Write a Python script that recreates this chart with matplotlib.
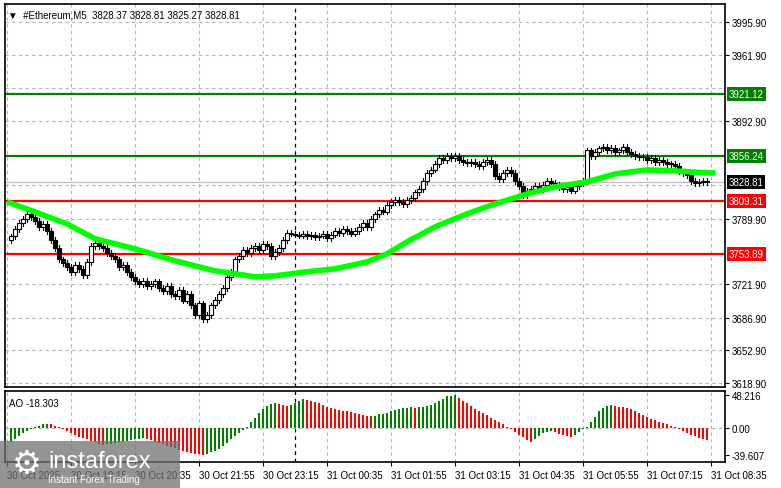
import numpy as np
import matplotlib
matplotlib.use("Agg")
import matplotlib.pyplot as plt
from matplotlib.patches import Rectangle

plt.rcParams["font.family"] = ["Liberation Sans", "DejaVu Sans"]

# closes of each M5 candle (opens taken from previous close)
closes = [3772, 3780, 3786, 3790, 3795, 3792, 3788, 3782, 3785, 3778, 3768,
          3760, 3748, 3744, 3740, 3735, 3742, 3738, 3732, 3745, 3762,
          3765, 3762, 3760, 3755, 3752, 3748, 3740, 3742, 3735, 3730,
          3725, 3722, 3726, 3720, 3722, 3725, 3718, 3715, 3720, 3712,
          3710, 3716, 3705, 3712, 3700, 3690, 3702, 3686, 3690, 3700,
          3706, 3712, 3718, 3730, 3735, 3748, 3752, 3758, 3755, 3760,
          3762, 3758, 3764, 3762, 3752, 3756, 3760, 3768, 3776, 3775,
          3774, 3773, 3775, 3772, 3774, 3771, 3773, 3775, 3770, 3774,
          3778, 3776, 3780, 3778, 3775, 3778, 3782, 3786, 3782, 3790,
          3795, 3800, 3798, 3805, 3808, 3810, 3808, 3806, 3810, 3812,
          3818, 3822, 3830, 3838, 3842, 3848, 3854, 3852, 3856, 3854,
          3856, 3852, 3850, 3849, 3850, 3848, 3846, 3850, 3852, 3848,
          3835, 3832, 3838, 3842, 3838, 3830, 3825, 3815, 3820, 3822,
          3825, 3822, 3826, 3830, 3828, 3826, 3824, 3822, 3824, 3820,
          3825, 3828, 3830, 3862, 3856, 3860, 3864, 3866, 3862, 3865,
          3860, 3862, 3866, 3860, 3858, 3856, 3855, 3855, 3852, 3854,
          3850, 3852, 3850, 3848, 3848, 3846, 3840, 3838, 3836, 3830,
          3828, 3829, 3830, 3828.81]
first_open = 3768

# moving average, sampled at candle indices
ma_idx = [-1, 6, 14, 21, 31, 41, 51, 61, 66, 74, 81, 89, 94, 99, 106, 114, 121,
          129, 136, 144, 151, 159, 166, 174, 176]
ma_val = [3808.2, 3797.7, 3785.2, 3769.6, 3759.1, 3746.6, 3736.1, 3729.9, 3730.9,
          3735.1, 3738.2, 3745.5, 3753.9, 3766.4, 3782.1, 3795.7, 3806.1, 3816.5,
          3823.9, 3829.1, 3837.4, 3841.6, 3840.6, 3838.5, 3838.5]

ao = [-20, -16, -12, -8, -5, -2, 1, 3, 5, 6,
      5, 3, 1, -2, -5, -8, -10, -13, -15, -17,
      -19, -21, -23, -25, -24, -23, -22, -21, -20, -19,
      -18, -17, -16, -15, -16, -18, -20, -22, -24, -26,
      -28, -30, -32, -34, -36, -37, -38, -39, -39.6, -38,
      -36, -34, -31, -27, -22, -17, -12, -7, -3, 1,
      8, 15, 22, 28, 32, 35, 36, 35, 33, 32,
      33, 36, 40, 42, 41, 40, 38, 36, 34, 31,
      29, 27, 26, 25, 24, 23, 22, 20, 19, 18,
      17, 18, 20, 21, 22, 24, 26, 28, 29, 29,
      30, 29, 30, 31, 32, 34, 37, 40, 43, 46,
      47, 48.2, 44, 40, 36, 32, 28, 25, 22, 19,
      15, 12, 8, 5, 2, -2, -6, -10, -14, -18,
      -20, -17, -12, -8, -6, -4, -6, -9, -11, -12,
      -13, -10, -6, -2, 2, 8, 16, 24, 29, 32,
      33, 32, 31, 30, 29, 27, 25, 22, 19, 16,
      13, 11, 9, 7, 5, 3, 1, -1, -4, -7,
      -10, -12, -15, -17, -18.3]

price_ticks = [3995.90, 3961.90, 3926.90, 3892.90, 3856.90, 3825.90,
               3789.90, 3753.90, 3721.90, 3686.90, 3652.90, 3618.90]
price_labels_shown = [3995.90, 3961.90, 3892.90, 3789.90, 3721.90, 3686.90, 3652.90, 3618.90]
time_pos = [-1, 15, 31, 47, 63, 79, 95, 111, 127, 143, 159, 175]
time_labels = ["30 Oct 2025", "30 Oct 19:15", "30 Oct 20:35", "30 Oct 21:55",
               "30 Oct 23:15", "31 Oct 00:35", "31 Oct 01:55", "31 Oct 03:15",
               "31 Oct 04:35", "31 Oct 05:55", "31 Oct 07:15", "31 Oct 08:35"]
levels = [(3921.12, "#007f00"), (3856.24, "#007f00"), (3809.31, "#ff0000"), (3753.89, "#ff0000")]
last_price = 3828.81

W, H = 781, 489
fig = plt.figure(figsize=(W / 100, H / 100), dpi=100)
ax = fig.add_axes([5 / W, 1 - 388 / H, 720 / W, 383 / H])
ax2 = fig.add_axes([5 / W, 1 - 463 / H, 720 / W, 71 / H])

grid_kw = dict(color="#b4b4b4", linestyle=(0, (3, 3)), linewidth=0.8)
for a in (ax, ax2):
    for t in time_pos:
        a.axvline(t, zorder=0, **grid_kw)
    a.set_xlim(-1.5, 178.5)
    for s in a.spines.values():
        s.set_linewidth(1.2)
for p in price_ticks:
    ax.axhline(p, zorder=0, **grid_kw)

# candles
opens = [first_open] + closes[:-1]
for i, (o, c) in enumerate(zip(opens, closes)):
    hi, lo = max(o, c) + 3, min(o, c) - 3
    ax.plot([i, i], [lo, hi], color="black", lw=0.8, zorder=3)
    if c >= o:
        ax.add_patch(Rectangle((i - 0.4, o), 0.8, max(c - o, 0.6), facecolor="white",
                               edgecolor="black", lw=0.8, zorder=4))
    else:
        ax.add_patch(Rectangle((i - 0.4, c), 0.8, o - c, facecolor="black",
                               edgecolor="black", lw=0.8, zorder=4))

ax.plot(ma_idx, ma_val, color="#00ff00", lw=4, zorder=5, solid_capstyle="butt")
for lv, col in levels:
    ax.axhline(lv, color=col, lw=1.6, zorder=2)
ax.axhline(last_price, color="#c0c0c0", lw=0.9, zorder=1)
ax.axvline(71, color="black", linestyle=(0, (3, 3)), lw=0.9, zorder=2)
ax2.axvline(71, color="black", linestyle=(0, (3, 3)), lw=0.9, zorder=2)

ax.set_ylim(3614.7, 4015)
ax.yaxis.tick_right()
ax.set_yticks(price_labels_shown)
ax.set_yticklabels([f"{p:.2f}" for p in price_labels_shown], fontsize=7)
ax.tick_params(axis="y", length=3, pad=2)
ax.set_xticks([])
for lv, col in levels + [(last_price, "black")]:
    ax.text(1.005, lv, f"{lv:.2f}", transform=ax.get_yaxis_transform(), fontsize=7,
            color="white", va="center", ha="left",
            bbox=dict(boxstyle="square,pad=0.2", facecolor=col, edgecolor="none"))
ax.text(0.004, 0.985, "▼  #Ethereum,M5  3828.37 3828.81 3825.27 3828.81",
        transform=ax.transAxes, fontsize=7, va="top")

# AO histogram
cols = ["#008000"] + ["#008000" if ao[i] >= ao[i - 1] else "#ff0000" for i in range(1, len(ao))]
ax2.bar(range(len(ao)), ao, width=0.35, color=cols, zorder=3)
ax2.axhline(0, **grid_kw)
ax2.set_ylim(-50, 54)
ax2.yaxis.tick_right()
ax2.set_yticks([48.216, 0, -39.607])
ax2.set_yticklabels(["48.216", "0.00", "-39.607"], fontsize=7)
ax2.tick_params(axis="y", length=3, pad=2)
ax2.set_xticks(time_pos)
ax2.set_xticklabels(time_labels, fontsize=7, ha="left")
ax2.tick_params(axis="x", length=3, pad=3)
ax2.text(0.006, 0.9, "AO -18.303", transform=ax2.transAxes, fontsize=7, va="top")

# watermark
fig.patches.append(Rectangle((0, 0), 180 / W, 47 / H, transform=fig.transFigure,
                             facecolor="#707070", alpha=0.75, edgecolor="none", zorder=10))
fig.text(48 / W, 27 / H, "instaforex", fontsize=17, color="white", va="center", zorder=11)
fig.text(48 / W, 9 / H, "Instant Forex Trading", fontsize=7, color="white", va="center", zorder=11)
fig.text(12 / W, 25 / H, "⚙", fontsize=24, color="white", va="center", zorder=11,
         family="DejaVu Sans")

fig.savefig("out.png", dpi=100)
